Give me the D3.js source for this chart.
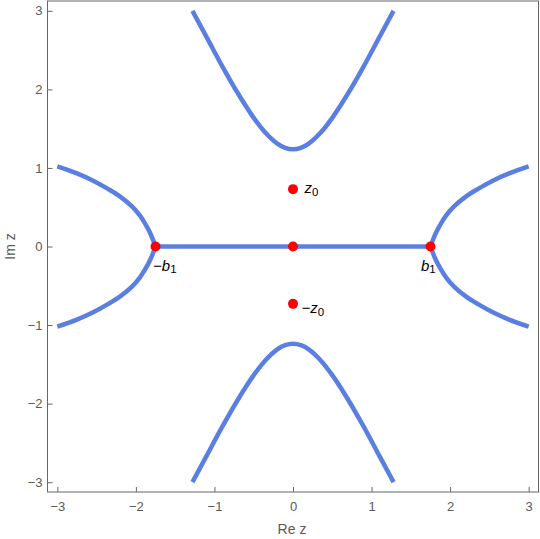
<!DOCTYPE html>
<html>
<head>
<meta charset="utf-8">
<script src="https://cdn.jsdelivr.net/npm/d3@7"></script>
<style>
  body { margin: 0; background: #fff; }
  svg { display: block; font-family: "Liberation Sans", Arial, sans-serif; }
  .tick text { fill: #5a5a5a; font-size: 13px; }
  .tick line { stroke: #666; }
</style>
</head>
<body>
<svg id="chart" width="540" height="539"></svg>
<script>
// tick values
var xTicks = [-3, -2, -1, 0, 1, 2, 3];
var yTicks = [-3, -2, -1, 0, 1, 2, 3];

// curves, [Re z, Im z]
var upperArc = [[-1.28, 3.0], [-1.1, 2.666], [-0.9, 2.294], [-0.7, 1.947], [-0.5, 1.638], [-0.35, 1.447], [-0.2, 1.309], [-0.1, 1.255], [0, 1.237],
  [0.1, 1.255], [0.2, 1.309], [0.35, 1.447], [0.5, 1.638], [0.7, 1.947], [0.9, 2.294], [1.1, 2.666], [1.28, 3.0]];
var lowerArc = [[-1.28, -3.0], [-1.1, -2.666], [-0.9, -2.294], [-0.7, -1.947], [-0.5, -1.638], [-0.35, -1.447], [-0.2, -1.309], [-0.1, -1.255], [0, -1.237],
  [0.1, -1.255], [0.2, -1.309], [0.35, -1.447], [0.5, -1.638], [0.7, -1.947], [0.9, -2.294], [1.1, -2.666], [1.28, -3.0]];
var rightUpper = [[1.75, 0], [1.78, 0.08], [1.82, 0.175], [1.879, 0.285], [1.95, 0.395], [2.05, 0.51], [2.20, 0.635],
  [2.35, 0.73], [2.55, 0.84], [2.75, 0.93], [3.0, 1.02]];
var rightLower = [[1.75, 0], [1.78, -0.08], [1.82, -0.175], [1.879, -0.285], [1.95, -0.395], [2.05, -0.51], [2.20, -0.635],
  [2.35, -0.73], [2.55, -0.84], [2.75, -0.93], [3.0, -1.02]];
var leftUpper = [[-1.75, 0], [-1.78, 0.08], [-1.82, 0.175], [-1.879, 0.285], [-1.95, 0.395], [-2.05, 0.51], [-2.20, 0.635],
  [-2.35, 0.73], [-2.55, 0.84], [-2.75, 0.93], [-3.0, 1.02]];
var leftLower = [[-1.75, 0], [-1.78, -0.08], [-1.82, -0.175], [-1.879, -0.285], [-1.95, -0.395], [-2.05, -0.51], [-2.20, -0.635],
  [-2.35, -0.73], [-2.55, -0.84], [-2.75, -0.93], [-3.0, -1.02]];
var realCut = [[-1.75, 0], [1.75, 0]];

// marked points
var pointRe = [-1.75, 0, 1.75, 0, 0];
var pointIm = [0, 0, 0, 0.73, -0.73];
var pointName = ["−b", "", "b", "z", "−z"];
var pointSub = ["1", "", "1", "0", "0"];

var svg = d3.select("#chart");

var x = d3.scaleLinear().domain([-3.125, 3.125]).range([47.5, 538.5]);
var y = d3.scaleLinear().domain([-3.125, 3.125]).range([492, 1]);

var line = d3.line()
  .x(function(d) { return x(d[0]); })
  .y(function(d) { return y(d[1]); })
  .curve(d3.curveCatmullRom.alpha(0.5));

// curves
svg.append("g")
  .selectAll("path")
  .data([upperArc, lowerArc, rightUpper, rightLower, leftUpper, leftLower, realCut])
  .enter().append("path")
  .attr("d", line)
  .attr("fill", "none")
  .attr("stroke", "#5a7fe0")
  .attr("stroke-width", 4.5);

// axes
var fmt = d3.format("d");
var xAxis = d3.axisBottom(x).tickValues(xTicks).tickFormat(fmt).tickSizeInner(-5).tickSizeOuter(0).tickPadding(10);
var yAxis = d3.axisLeft(y).tickValues(yTicks).tickFormat(fmt).tickSizeInner(-5).tickSizeOuter(0).tickPadding(5);

svg.append("g").attr("transform", "translate(0,492)").call(xAxis)
  .call(function(g) { g.select(".domain").remove(); });
svg.append("g").attr("transform", "translate(47.5,0)").call(yAxis)
  .call(function(g) { g.select(".domain").remove(); });

svg.append("rect")
  .attr("x", 47.5).attr("y", 1)
  .attr("width", 491).attr("height", 491)
  .attr("fill", "none")
  .attr("stroke", "#666");

svg.append("text")
  .attr("x", 292).attr("y", 534)
  .attr("text-anchor", "middle")
  .attr("fill", "#5a5a5a")
  .style("font-size", "14px")
  .text("Re z");

svg.append("text")
  .attr("transform", "translate(15,246.5) rotate(-90)")
  .attr("text-anchor", "middle")
  .attr("fill", "#5a5a5a")
  .style("font-size", "14px")
  .text("Im z");

// points
var idx = d3.range(pointRe.length);
svg.append("g")
  .selectAll("circle")
  .data(idx)
  .enter().append("circle")
  .attr("cx", function(i) { return x(pointRe[i]); })
  .attr("cy", function(i) { return y(pointIm[i]); })
  .attr("r", 5)
  .attr("fill", "#ff0000");

// point labels, offsets in px from each dot
var offsets = [[-2.5, 24], [0, 0], [-9.5, 24], [11.5, 4], [8.5, 9.5]];
var labels = svg.append("g")
  .selectAll("text")
  .data(idx.filter(function(i) { return pointName[i] !== ""; }))
  .enter().append("text")
  .attr("x", function(i) { return x(pointRe[i]) + offsets[i][0]; })
  .attr("y", function(i) { return y(pointIm[i]) + offsets[i][1]; })
  .attr("fill", "#000")
  .style("font-size", "15px");

labels.append("tspan")
  .style("font-style", "italic")
  .text(function(i) { return pointName[i]; });
labels.append("tspan")
  .attr("dy", 2.5)
  .style("font-size", "11.5px")
  .text(function(i) { return pointSub[i]; });
</script>
</body>
</html>
